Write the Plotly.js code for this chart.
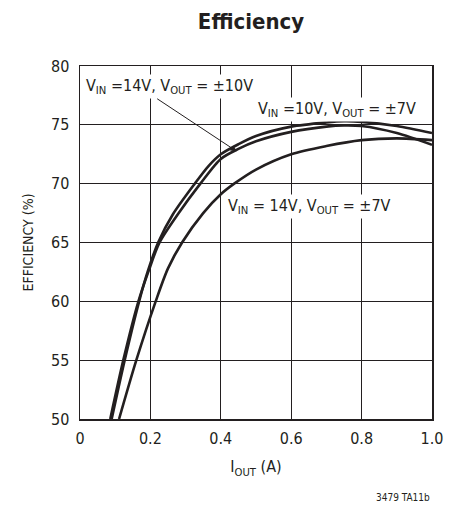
<!DOCTYPE html>
<html>
<head>
<meta charset="utf-8">
<script src="https://cdn.plot.ly/plotly-3.0.1.min.js"></script>
<style>html,body{margin:0;padding:0;background:#fff;}#chart{width:458px;height:506px;}</style>
</head>
<body>
<div id="chart"></div>
<script>
// Data
const seriesNames = ['VIN = 10V, VOUT = ±7V', 'VIN = 14V, VOUT = ±10V', 'VIN = 14V, VOUT = ±7V'];

const iout10v7 = [0.090, 0.127, 0.168, 0.192, 0.222, 0.264, 0.326, 0.365, 0.400, 0.450, 0.500, 0.600, 0.700, 0.750, 0.800, 0.900, 1.000];
const eff10v7  = [50.0, 55.0, 60.0, 62.5, 65.0, 67.4, 70.0, 71.5, 72.5, 73.35, 74.05, 74.85, 75.2, 75.3, 75.25, 74.9, 74.3];

const iout14v10 = [0.086, 0.123, 0.166, 0.194, 0.226, 0.278, 0.342, 0.400, 0.450, 0.500, 0.600, 0.700, 0.750, 0.800, 0.900, 1.000];
const eff14v10  = [50.0, 55.0, 60.0, 62.5, 65.0, 67.4, 70.0, 72.1, 72.95, 73.6, 74.4, 74.85, 74.95, 74.9, 74.3, 73.3];

const iout14v7 = [0.111, 0.160, 0.215, 0.250, 0.290, 0.350, 0.400, 0.438, 0.500, 0.600, 0.700, 0.800, 0.900, 1.000];
const eff14v7  = [50.0, 55.0, 60.0, 62.8, 65.0, 67.5, 69.1, 70.0, 71.2, 72.5, 73.2, 73.7, 73.85, 73.7];

const xTickVals = [0, 0.2, 0.4, 0.6, 0.8, 1.0];
const xTickText = ['0', '0.2', '0.4', '0.6', '0.8', '1.0'];
const yTickVals = [50, 55, 60, 65, 70, 75, 80];
const yTickText = ['50', '55', '60', '65', '70', '75', '80'];

const ink = '#231f20';
const fontFam = '"Liberation Sans Narrow", "DejaVu Sans Condensed", Roboto, sans-serif';

function curve(x, y, name) {
  return {x: x, y: y, name: name, type: 'scatter', mode: 'lines',
          line: {color: ink, width: 2.6, shape: 'spline', smoothing: 0.8},
          hoverinfo: 'skip', showlegend: false};
}

const data = [
  curve(iout10v7, eff10v7, seriesNames[0]),
  curve(iout14v10, eff14v10, seriesNames[1]),
  curve(iout14v7, eff14v7, seriesNames[2])
];

const labelFont = {family: fontFam, size: 16, color: ink};

const layout = {
  width: 458, height: 506,
  margin: {l: 80, r: 26, t: 66, b: 87, pad: 0},
  paper_bgcolor: '#fff', plot_bgcolor: '#fff',
  font: {family: fontFam, color: ink},
  title: {text: '<b>Efficiency</b>', font: {family: fontFam, size: 22, color: ink},
          x: 251/458, xanchor: 'center', xref: 'container', y: 1 - 21/506, yanchor: 'middle', yref: 'container'},
  xaxis: {range: [0, 1], tickvals: xTickVals, ticktext: xTickText,
          showgrid: true, gridcolor: ink, gridwidth: 1, zeroline: false,
          showline: true, mirror: true, linecolor: ink, linewidth: 1.5,
          ticks: '', ticklabelstandoff: 4, tickfont: {family: fontFam, size: 16, color: ink},
          title: {text: 'I<sub>OUT</sub> (A)', font: {family: fontFam, size: 16, color: ink}, standoff: 14},
          fixedrange: true},
  yaxis: {range: [50, 80], tickvals: yTickVals, ticktext: yTickText,
          showgrid: true, gridcolor: ink, gridwidth: 1, zeroline: false,
          showline: true, mirror: true, linecolor: ink, linewidth: 1.5,
          ticks: '', ticklabelstandoff: 6, tickfont: {family: fontFam, size: 16, color: ink},
          title: {text: 'EFFICIENCY (%)', font: {family: fontFam, size: 14, color: ink}, standoff: 14},
          fixedrange: true},
  annotations: [
    {x: 0.012, y: 78.25, xref: 'x', yref: 'y', xanchor: 'left', yanchor: 'middle',
     text: 'V<sub>IN</sub> =14V, V<sub>OUT</sub> = ±10V', showarrow: false,
     bgcolor: '#fff', borderpad: 1, font: labelFont},
    {x: 0.96, y: 76.3, xref: 'x', yref: 'y', xanchor: 'right', yanchor: 'middle',
     text: 'V<sub>IN</sub> =10V, V<sub>OUT</sub> = ±7V', showarrow: false,
     bgcolor: '#fff', borderpad: 1, font: labelFont},
    {x: 0.415, y: 68.1, xref: 'x', yref: 'y', xanchor: 'left', yanchor: 'middle',
     text: 'V<sub>IN</sub> = 14V, V<sub>OUT</sub> = ±7V', showarrow: false,
     bgcolor: '#fff', borderpad: 1, font: labelFont},
    {x: 0.445, y: 72.75, xref: 'x', yref: 'y', ax: 0.215, ay: 77.3, axref: 'x', ayref: 'y',
     text: '', showarrow: true, arrowhead: 2, arrowsize: 1.2, arrowwidth: 1, arrowcolor: ink},
    {x: 1, y: -0.221, xref: 'paper', yref: 'paper', xanchor: 'right', yanchor: 'middle',
     text: '3479 TA11b', showarrow: false, font: {family: fontFam, size: 10, color: ink}}
  ]
};

Plotly.newPlot('chart', data, layout, {displayModeBar: false, staticPlot: true});
</script>
</body>
</html>
